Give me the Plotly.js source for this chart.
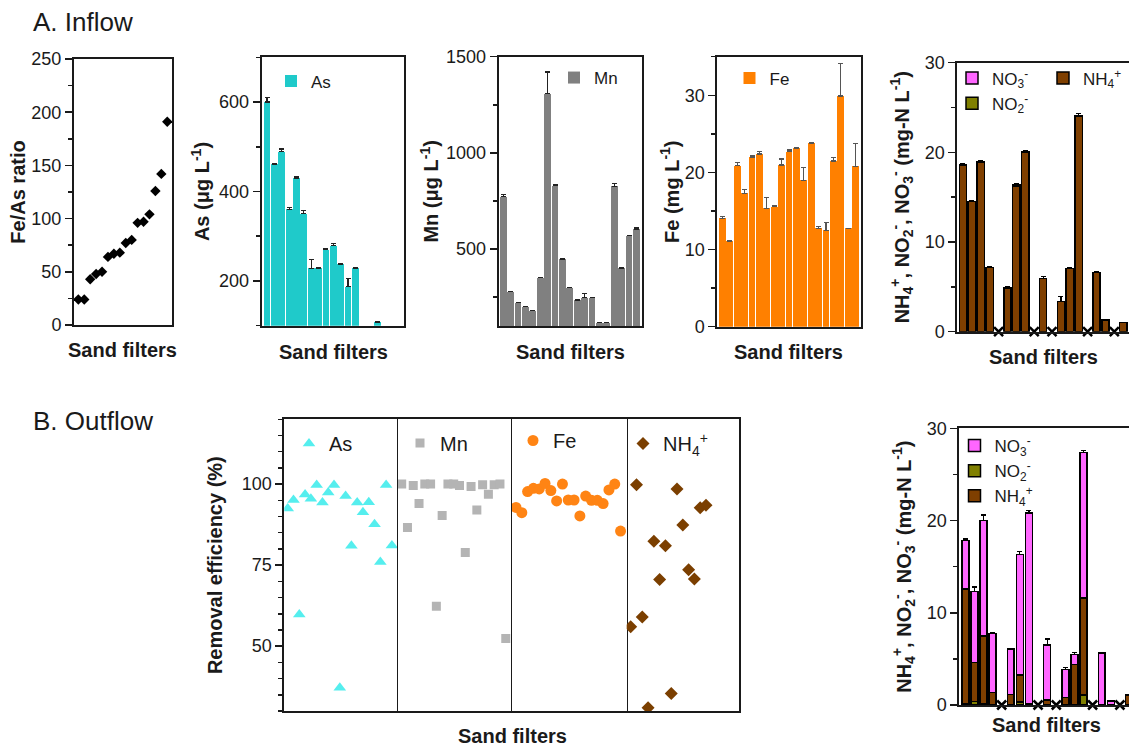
<!DOCTYPE html>
<html><head><meta charset="utf-8">
<script src="https://cdn.plot.ly/plotly-3.0.1.min.js"></script>
<style>html,body{margin:0;padding:0;background:#fff}#chart{width:1129px;height:748px}</style>
</head><body><div id="chart"></div>
<script>
// ---------- DATA ----------
const filters = [1,2,3,4,5,6,7,8,9,10,11,12,13,14,15,16,17,18,19];
const feAsRatio = [24, 24, 43, 48, 50, 64, 67, 68, 77, 80, 96, 97, 104, 126, 142, 191];

const asIn    = [600, 461, 489, 360, 430, 350, 228, 228, 270, 279, 238, 187, 228, null, null, 108, null, null, null];
const asInErr = [10, 2, 6, 5, 3, 7, 20, 2, 3, 4, 1, 18, 2, 0, 0, 2, 0, 0, 0];

const mnIn    = [772, 278, 221, 200, 180, 351, 1308, 830, 448, 299, 235, 247, 247, 118, 118, 827, 401, 570, 604];
const mnInErr = [10, 3, 2, 2, 2, 3, 112, 5, 3, 3, 1, 22, 2, 2, 2, 12, 2, 2, 8];

const feIn    = [14.07, 11.08, 20.87, 17.3, 22.0, 22.4, 15.37, 15.58, 20.95, 22.7, 23.16, 19.0, 23.77, 12.77, 12.5, 21.47, 29.9, 12.77, 20.8];
const feInErr = [0.2, 0.1, 0.4, 0.5, 0.2, 0.3, 1.4, 0.1, 0.8, 0.2, 0, 1.6, 0.05, 0.2, 1.0, 0.5, 4.2, 0, 3.0];

const nh4In    = [18.6, 14.5, 18.9, 7.15, null, 4.9, 16.2, 20.05, null, 5.95, null, 3.35, 7.05, 24.05, null, 6.58, 1.3, null, 1.0];
const nh4InErr = [0.2, 0.1, 0.2, 0.1, 0, 0.15, 0.3, 0.1, 0, 0.2, 0, 0.6, 0.1, 0.3, 0, 0.1, 0.05, 0, 0.05];
const no3In    = [null, null, null, null, null, null, 0.15, null, null, null, null, null, null, null, null, null, null, null, null];
const no2In    = [null, null, null, null, null, null, null, null, null, null, null, null, null, null, null, null, null, null, null];
const ndIn     = [5, 9, 11, 15, 18];

const no2Out    = [0.1, 0.4, 0.1, 0.05, null, 0.05, 0.3, 0.05, null, 0.05, null, 0.05, 0.05, 1.1, null, null, null, null, null];
const nh4Out    = [12.5, 4.2, 7.4, 1.3, null, 1.1, 2.95, 0.1, null, 0.5, null, 0.75, 4.35, 10.5, null, 0.05, null, null, 1.1];
const no3Out    = [5.25, 7.7, 12.5, 6.4, null, 4.9, 13.05, 20.65, null, 5.95, null, 3.05, 1.1, 15.8, null, 5.6, 0.45, null, null];
const no3OutErr = [0.15, 0.5, 0.6, 0.1, 0, 0.05, 0.3, 0.3, 0, 0.65, 0, 0.2, 0.2, 0.15, 0, 0.05, 0, 0, 0];
const nh4OutErr = [0.1, 0.2, 0.4, 0.1, 0, 0.05, 0.2, 0, 0, 0.1, 0, 0.1, 0.3, 0.1, 0, 0, 0, 0, 0.05];
const ndOut     = [5, 9, 11, 15, 18];

const remAs  = [92.5, 95.1, 59.8, 96.8, 95.5, 99.7, 94.3, 97.4, 99.7, 37.2, 96.3, 81.0, 94.3, 91.3, 94.4, 87.6, 76.0, 99.7, 81.1];
const remMn  = [100, 86.6, 99.6, 94.0, 100, 100, 62.3, 90.3, 100, 100, 99.6, 78.9, 99.3, 92.0, 99.8, 96.9, 99.8, 100, 52.4];
const remFe  = [92.8, 91.2, 97.7, 98.7, 98.5, 100.2, 98.0, 94.8, 100, 95.1, 95.1, 90.2, 96.3, 95.0, 95.0, 94.0, 98.2, 100, 85.5];
const remNH4 = [56.0, 99.8, 59.0, 31.0, 82.4, 70.6, 81.0, 35.4, 98.5, 87.4, 73.6, 70.7, 92.7, 93.5];

// ---------- HELPERS ----------
const W = 1129, H = 748;
const FONT = 'Liberation Sans, Arial, sans-serif';
const INK = '#1a1a1a';
const hx = v => v / W;
const vy = v => 1 - v / H;
const hdom = (a, b) => [a / W, Math.min(1, b / W)];
const vdom = (top, bot) => [1 - bot / H, 1 - top / H];
const zeros = a => a.map(() => 0);
const errUp = (a, col) => ({type:'data', symmetric:false, array:a, arrayminus:zeros(a), color:col || '#222', thickness:1.2, width:2.5});

function yAx(o){
  return Object.assign({showline:true, linecolor:INK, linewidth:2, mirror:true, ticks:'outside', ticklen:7,
    tickwidth:1.5, tickcolor:INK, showgrid:false, zeroline:false, automargin:false,
    tickfont:{size:18, color:INK, family:FONT}}, o);
}
function xAx(o){
  return Object.assign({showline:true, linecolor:INK, linewidth:2, mirror:true, ticks:'', showticklabels:false,
    showgrid:false, zeroline:false, automargin:false}, o);
}
const minor = d => ({dtick:d, ticks:'outside', ticklen:4, tickwidth:1.5, tickcolor:INK});
const ytitle = (t, s) => ({text:t, standoff:s, font:{size:20, family:FONT, color:INK, weight:700}});

const COL = {as:'#1fcaca', mn:'#808080', fe:'#ff8000', no3:'#ff66ff', no2:'#808000', nh4:'#7f3f00',
  rAs:'#55eeee', rMn:'#b4b4b4', rFe:'#ff8414', rNH4:'#7b3f00'};

// ---------- TRACES ----------
const traces = [];
traces.push({type:'scatter', mode:'markers', x:filters.slice(0, feAsRatio.length), y:feAsRatio,
  marker:{symbol:'diamond', size:8, color:'#000'}, xaxis:'x', yaxis:'y', showlegend:false});

traces.push({type:'bar', name:'As', x:filters, y:asIn, width:0.92, error_y:errUp(asInErr),
  marker:{color:COL.as, line:{width:0}}, xaxis:'x2', yaxis:'y2', legend:'legend'});
traces.push({type:'bar', name:'Mn', x:filters, y:mnIn, width:0.92, error_y:errUp(mnInErr),
  marker:{color:COL.mn, line:{width:0}}, xaxis:'x3', yaxis:'y3', legend:'legend2'});
traces.push({type:'bar', name:'Fe', x:filters, y:feIn, width:0.92, error_y:errUp(feInErr, '#555'),
  marker:{color:COL.fe, line:{width:0}}, xaxis:'x4', yaxis:'y4', legend:'legend3'});

const nBar = (name, y, col, xa, ya, lg, rank, err, w) => {
  const t = {type:'bar', name:name, x:filters, y:y, width:w, marker:{color:col, line:{color:'#000', width:1.5}},
    xaxis:xa, yaxis:ya, legend:lg, legendrank:rank};
  if (err) t.error_y = errUp(err, '#000');
  return t;
};
// inflow N
traces.push(nBar('NH<sub>4</sub><sup>+</sup>', nh4In, COL.nh4, 'x5', 'y5', 'legend5', 1, nh4InErr, 0.82));
traces.push(nBar('NO<sub>2</sub><sup>-</sup>', no2In, COL.no2, 'x5', 'y5', 'legend4', 2, null, 0.82));
traces.push(nBar('NO<sub>3</sub><sup>-</sup>', no3In, COL.no3, 'x5', 'y5', 'legend4', 1, null, 0.82));
traces.push({type:'scatter', mode:'markers', x:ndIn, y:ndIn.map(() => 0), cliponaxis:false,
  marker:{symbol:'x-thin', size:9, line:{color:'#000', width:2.5}}, xaxis:'x5', yaxis:'y5', showlegend:false});

// outflow removal efficiency
traces.push({type:'scatter', mode:'markers', name:'As', x:filters.slice(0, remAs.length), y:remAs,
  marker:{symbol:'triangle-up', size:11, color:COL.rAs}, xaxis:'x6', yaxis:'y6', legend:'legend6'});
traces.push({type:'scatter', mode:'markers', name:'Mn', x:filters.slice(0, remMn.length), y:remMn,
  marker:{symbol:'square', size:9, color:COL.rMn}, xaxis:'x7', yaxis:'y7', legend:'legend7'});
traces.push({type:'scatter', mode:'markers', name:'Fe', x:filters.slice(0, remFe.length), y:remFe,
  marker:{symbol:'circle', size:11, color:COL.rFe}, xaxis:'x8', yaxis:'y8', legend:'legend8'});
traces.push({type:'scatter', mode:'markers', name:'NH<sub>4</sub><sup>+</sup>', x:filters.slice(0, remNH4.length), y:remNH4,
  marker:{symbol:'diamond', size:10, color:COL.rNH4}, xaxis:'x9', yaxis:'y9', legend:'legend9'});

// outflow N
traces.push(nBar('NO<sub>2</sub><sup>-</sup>', no2Out, COL.no2, 'x10', 'y10', 'legend10', 2, null, 0.76));
traces.push(nBar('NH<sub>4</sub><sup>+</sup>', nh4Out, COL.nh4, 'x10', 'y10', 'legend10', 3, nh4OutErr, 0.76));
traces.push(nBar('NO<sub>3</sub><sup>-</sup>', no3Out, COL.no3, 'x10', 'y10', 'legend10', 1, no3OutErr, 0.76));
traces.push({type:'scatter', mode:'markers', x:ndOut, y:ndOut.map(() => 0), cliponaxis:false,
  marker:{symbol:'x-thin', size:9, line:{color:'#000', width:2.5}}, xaxis:'x10', yaxis:'y10', showlegend:false});

// ---------- LAYOUT ----------
const leg = (x, top, size) => ({x:hx(x), y:vy(top), xanchor:'left', yanchor:'top', bgcolor:'rgba(0,0,0,0)',
  borderwidth:0, font:{size:size, family:FONT, color:INK}, tracegroupgap:0, traceorder:'normal'});

const ann = (t, x, y, size, bold, anchor) => ({text:t, x:hx(x), y:vy(y), xref:'paper', yref:'paper',
  xanchor:anchor || 'center', yanchor:'middle', showarrow:false,
  font:{size:size, family:FONT, color:INK, weight:bold ? 700 : 400}});

const layout = {
  width:W, height:H, margin:{l:0, r:0, t:0, b:0}, paper_bgcolor:'#fff', plot_bgcolor:'#fff',
  font:{family:FONT, color:INK}, barmode:'stack', hovermode:false,
  // A1 Fe/As ratio
  xaxis: xAx({domain:hdom(74, 172), range:[0.27, 16.8], anchor:'y'}),
  yaxis: yAx({domain:vdom(59, 325), range:[0, 250], tick0:0, dtick:50, minor:minor(25), anchor:'x',
    title:ytitle('Fe/As ratio', 0)}),
  // A2 As
  xaxis2: xAx({domain:hdom(261.7, 404.3), range:[0.28, 19.63], anchor:'y2'}),
  yaxis2: yAx({domain:vdom(57.3, 325.7), range:[100, 700], tick0:200, dtick:200, minor:{...minor(100), tick0:100}, anchor:'x2',
    title:ytitle('As (μg L<sup>-1</sup>)', 4)}),
  // A3 Mn
  xaxis3: xAx({domain:hdom(498.7, 642.3), range:[0.38, 19.79], anchor:'y3'}),
  yaxis3: yAx({domain:vdom(56.7, 326), range:[100, 1500], tick0:0, dtick:500, minor:{...minor(250), tick0:0}, anchor:'x3',
    title:ytitle('Mn (μg L<sup>-1</sup>)', 2)}),
  // A4 Fe
  xaxis4: xAx({domain:hdom(717.3, 860.7), range:[0.3, 19.68], anchor:'y4'}),
  yaxis4: yAx({domain:vdom(56.7, 326.7), range:[0, 35], tick0:0, dtick:10, minor:minor(5), anchor:'x4',
    title:ytitle('Fe (mg L<sup>-1</sup>)', 0)}),
  // A5 N inflow
  xaxis5: xAx({domain:hdom(957.3, 1129), range:[0.36, 19.65], anchor:'y5'}),
  yaxis5: yAx({domain:vdom(62.7, 331.7), range:[0, 30], tick0:0, dtick:10, minor:minor(5), anchor:'x5', mirror:false,
    title:ytitle('NH<sub>4</sub><sup>+</sup>, NO<sub>2</sub><sup>-</sup>, NO<sub>3</sub><sup>-</sup> (mg-N L<sup>-1</sup>)', 10)}),
  // B removal efficiency, four sections
  xaxis6: xAx({domain:hdom(284.3, 397.7), range:[0.41, 20.0], anchor:'y6'}),
  xaxis7: xAx({domain:hdom(397.7, 511.7), range:[0.31, 20.03], anchor:'y7'}),
  xaxis8: xAx({domain:hdom(511.7, 626.7), range:[0.26, 20.06], anchor:'y8'}),
  xaxis9: xAx({domain:hdom(626.7, 739), range:[0.31, 19.7], anchor:'y9'}),
  yaxis6: yAx({domain:vdom(419.3, 711), range:[30, 120], tick0:0, dtick:25, minor:minor(5), anchor:'x6', mirror:false,
    title:ytitle('Removal efficiency (%)', 14)}),
  yaxis7: {domain:vdom(419.3, 711), range:[30, 120], anchor:'x7', showline:true, linecolor:INK, linewidth:1.2, mirror:false,
    ticks:'', showticklabels:false, showgrid:false, zeroline:false, automargin:false},
  yaxis8: {domain:vdom(419.3, 711), range:[30, 120], anchor:'x8', showline:true, linecolor:INK, linewidth:1.2, mirror:true,
    ticks:'', showticklabels:false, showgrid:false, zeroline:false, automargin:false},
  yaxis9: {domain:vdom(419.3, 711), range:[30, 120], anchor:'x9', side:'right', showline:true, linecolor:INK, linewidth:2, mirror:false,
    ticks:'', showticklabels:false, showgrid:false, zeroline:false, automargin:false},
  // B N outflow
  xaxis10: xAx({domain:hdom(959.3, 1129), range:[0.34, 19.0], anchor:'y10'}),
  yaxis10: yAx({domain:vdom(428.3, 705), range:[0, 30], tick0:0, dtick:10, minor:minor(5), anchor:'x10', mirror:false,
    title:ytitle('NH<sub>4</sub><sup>+</sup>, NO<sub>2</sub><sup>-</sup>, NO<sub>3</sub><sup>-</sup> (mg-N L<sup>-1</sup>)', 10)}),

  legend:   leg(271, 63.5, 17),
  legend2:  leg(554, 60, 17),
  legend3:  leg(729.5, 60.5, 17),
  legend4:  leg(952, 60.5, 17),
  legend5:  leg(1043, 60.5, 17),
  legend6:  leg(289, 424, 20),
  legend7:  leg(400, 423.5, 20),
  legend8:  leg(513, 421, 20),
  legend9:  leg(623, 424, 20),
  legend10: leg(954.5, 428, 17),

  annotations: [
    ann('A. Inflow', 31, 22, 26, false, 'left'),
    ann('B. Outflow', 31, 421, 26, false, 'left'),
    ann('Sand filters', 122.5, 350, 20, true),
    ann('Sand filters', 333, 352, 20, true),
    ann('Sand filters', 570, 352, 20, true),
    ann('Sand filters', 788, 352, 20, true),
    ann('Sand filters', 1043, 357, 20, true),
    ann('Sand filters', 512, 736, 20, true),
    ann('Sand filters', 1046, 725, 20, true)
  ]
};

Plotly.newPlot('chart', traces, layout, {displayModeBar:false, staticPlot:true});
</script></body></html>
